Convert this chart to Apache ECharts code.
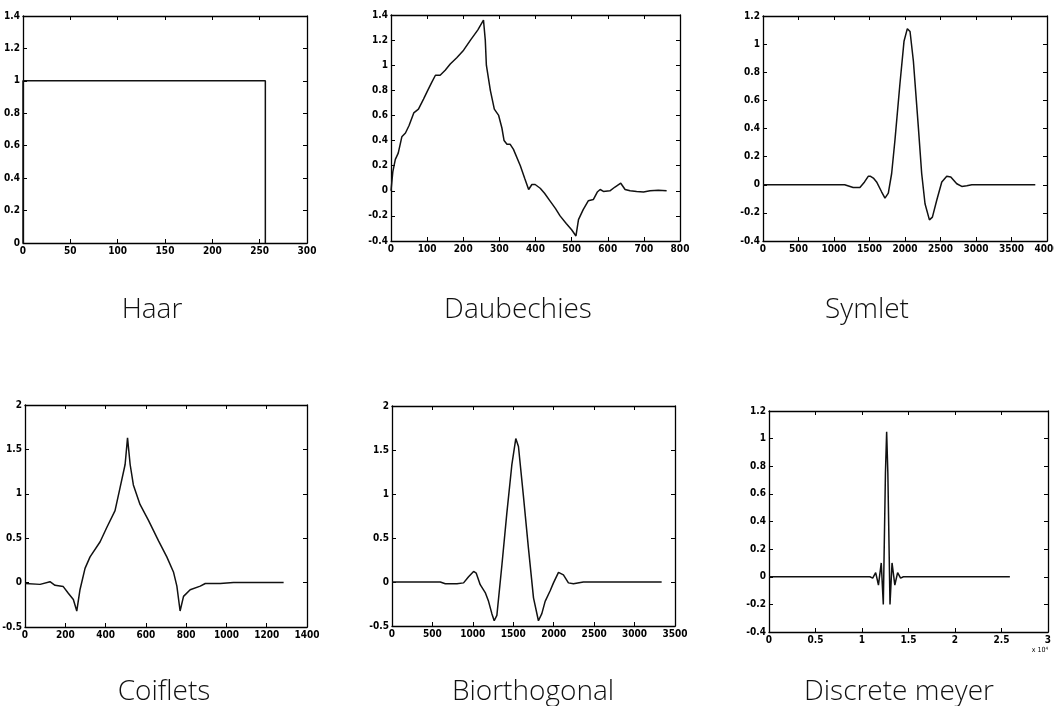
<!DOCTYPE html>
<html>
<head>
<meta charset="utf-8">
<script src="https://cdn.jsdelivr.net/npm/echarts@6.0.0/dist/echarts.min.js"></script>
<style>
html,body{margin:0;padding:0;background:#fff;}
#chart{width:1054px;height:706px;}
</style>
</head>
<body>
<div id="chart"></div>
<script>
// ---- Data ----
const titles = ['Haar', 'Daubechies', 'Symlet', 'Coiflets', 'Biorthogonal', 'Discrete meyer'];

const haarX = [0, 0, 256, 256];
const haarY = [0, 1, 1, 0];

const daubX = [0, 5, 12, 20, 30, 40, 50, 63, 76, 90, 100, 112, 123, 136, 150, 164, 182, 201, 220, 240, 256,
  261, 264, 275, 286, 298, 307, 313, 321, 330, 339, 358, 370, 381, 390, 399, 413, 425, 440, 455, 468, 485,
  500, 512, 519, 532, 546, 560, 571, 579, 588, 606, 620, 636, 648, 662, 680, 699, 717, 740, 763];
const daubY = [0, 0.15, 0.25, 0.3, 0.43, 0.46, 0.52, 0.62, 0.65, 0.73, 0.79, 0.86, 0.92, 0.92, 0.96, 1.01, 1.06, 1.12, 1.2, 1.28, 1.36,
  1.2, 1.0, 0.8, 0.65, 0.6, 0.5, 0.4, 0.37, 0.37, 0.33, 0.2, 0.1, 0.01, 0.05, 0.05, 0.02, -0.02, -0.08, -0.14, -0.2, -0.26,
  -0.31, -0.36, -0.23, -0.15, -0.08, -0.07, -0.01, 0.01, -0.005, 0, 0.03, 0.06, 0.01, 0, -0.005, -0.01, 0, 0.005, 0];

const symX = [0, 1150, 1270, 1365, 1430, 1482, 1515, 1560, 1600, 1670, 1718, 1765, 1812, 1859, 1929, 1986, 2033, 2071,
  2118, 2188, 2235, 2282, 2344, 2386, 2447, 2518, 2588, 2645, 2729, 2800, 2870, 2941, 3835];
const symY = [0, 0, -0.02, -0.02, 0.02, 0.06, 0.06, 0.045, 0.02, -0.05, -0.095, -0.06, 0.08, 0.32, 0.72, 1.02, 1.11, 1.09,
  0.88, 0.41, 0.08, -0.135, -0.25, -0.23, -0.11, 0.02, 0.06, 0.055, 0.007, -0.012, -0.007, 0, 0];

const coifX = [0, 75, 124, 149, 190, 215, 240, 257, 273, 298, 323, 373, 406, 447, 472, 497, 509, 522, 538, 571,
  613, 663, 704, 737, 754, 770, 787, 820, 870, 895, 903, 969, 1035, 1284];
const coifY = [-0.01, -0.02, 0.01, -0.03, -0.045, -0.12, -0.19, -0.32, -0.08, 0.16, 0.29, 0.46, 0.62, 0.81, 1.07, 1.33, 1.63, 1.33, 1.1, 0.88,
  0.7, 0.47, 0.29, 0.12, -0.04, -0.32, -0.155, -0.08, -0.04, -0.01, -0.02, -0.01, 0, 0];

const biorX = [0, 597, 659, 803, 885, 947, 1009, 1042, 1091, 1153, 1194, 1235, 1264, 1297, 1359, 1420, 1482, 1531, 1564, 1626,
  1688, 1750, 1811, 1853, 1894, 1956, 1997, 2059, 2120, 2182, 2244, 2367, 3335];
const biorY = [0, 0, -0.02, -0.02, -0.01, 0.06, 0.12, 0.1, -0.03, -0.12, -0.22, -0.36, -0.44, -0.38, 0.19, 0.78, 1.33, 1.63, 1.54, 0.97,
  0.38, -0.18, -0.44, -0.36, -0.22, -0.1, -0.01, 0.11, 0.08, -0.01, -0.02, 0, 0];

const dmeyX = [0, 10850, 11150, 11470, 11770, 12070, 12290, 12520, 12650, 12780, 13010, 13230, 13530, 13830, 14150, 14450, 25900];
const dmeyY = [0, 0, -0.01, 0.03, -0.06, 0.1, -0.2, 0.75, 1.05, 0.75, -0.2, 0.1, -0.06, 0.03, -0.01, 0, 0];

// axis ranges [xMin, xMax, xStep, yMin, yMax, yStep]
const ranges = [
  [0, 300, 50, 0, 1.4, 0.2],
  [0, 800, 100, -0.4, 1.4, 0.2],
  [0, 4000, 500, -0.4, 1.2, 0.2],
  [0, 1400, 200, -0.5, 2, 0.5],
  [0, 3500, 500, -0.5, 2, 0.5],
  [0, 30000, 5000, -0.4, 1.2, 0.2]
];
const xScaleDiv = [1, 1, 1, 1, 1, 10000];

const seriesX = [haarX, daubX, symX, coifX, biorX, dmeyX];
const seriesY = [haarY, daubY, symY, coifY, biorY, dmeyY];

// ---- Layout ----
const grids = [
  {left: 23, top: 16, width: 284, height: 227},
  {left: 391, top: 15, width: 289, height: 226},
  {left: 763, top: 16, width: 284, height: 225},
  {left: 25, top: 405, width: 282, height: 222},
  {left: 392, top: 406, width: 283, height: 220},
  {left: 769, top: 411, width: 279, height: 221}
];
const titlePos = [[152, 310], [518, 310], [867, 310], [164, 692], [533, 692], [899, 692]];

const labelFont = '"Liberation Sans Narrow", "DejaVu Sans Condensed", Arial, sans-serif';
const axisColor = '#000';

function mkAxis(gridIndex, min, max, interval, position, showLabel, div) {
  return {
    type: 'value', gridIndex, min, max, interval, position,
    axisLine: {show: true, onZero: false, lineStyle: {color: axisColor, width: 1.3}},
    axisTick: {show: true, inside: true, length: 4, lineStyle: {color: axisColor, width: 1}},
    splitLine: {show: false},
    axisLabel: {
      show: showLabel, color: '#000', fontSize: 10, fontWeight: 'bold', fontFamily: labelFont,
      margin: 3, showMinLabel: true, showMaxLabel: true, hideOverlap: false,
      formatter: (v) => String(+(v / div).toFixed(2))
    }
  };
}

const xAxes = [], yAxes = [], series = [], gridOpts = [];
for (let i = 0; i < 6; i++) {
  const r = ranges[i];
  gridOpts.push(Object.assign({containLabel: false, outerBoundsMode: 'none'}, grids[i]));
  xAxes.push(mkAxis(i, r[0], r[1], r[2], 'bottom', true, xScaleDiv[i]));
  xAxes.push(mkAxis(i, r[0], r[1], r[2], 'top', false, 1));
  yAxes.push(mkAxis(i, r[3], r[4], r[5], 'left', true, 1));
  yAxes.push(mkAxis(i, r[3], r[4], r[5], 'right', false, 1));
  series.push({
    type: 'line', xAxisIndex: i * 2, yAxisIndex: i * 2,
    data: seriesX[i].map((x, k) => [x, seriesY[i][k]]),
    showSymbol: false, symbol: 'none', smooth: false,
    lineStyle: {color: '#111', width: 1.5},
    animation: false, silent: true
  });
}

const graphics = titles.map((t, i) => ({
  type: 'text', x: titlePos[i][0], y: titlePos[i][1], silent: true,
  style: {
    text: t, fill: '#111', font: '300 28px "Open Sans", "Noto Sans", sans-serif',
    textAlign: 'center', align: 'center', textVerticalAlign: 'middle', verticalAlign: 'middle'
  }
}));
graphics.push({
  type: 'text', x: 1040, y: 650, silent: true,
  style: {text: 'x 10\u2074', fill: '#000', font: '7px ' + labelFont, textAlign: 'center', align: 'center',
    textVerticalAlign: 'middle', verticalAlign: 'middle'}
});

const chart = echarts.init(document.getElementById('chart'), null, {renderer: 'canvas'});
chart.setOption({
  animation: false,
  backgroundColor: '#fff',
  grid: gridOpts,
  xAxis: xAxes,
  yAxis: yAxes,
  series: series,
  graphic: graphics
});
</script>
</body>
</html>
